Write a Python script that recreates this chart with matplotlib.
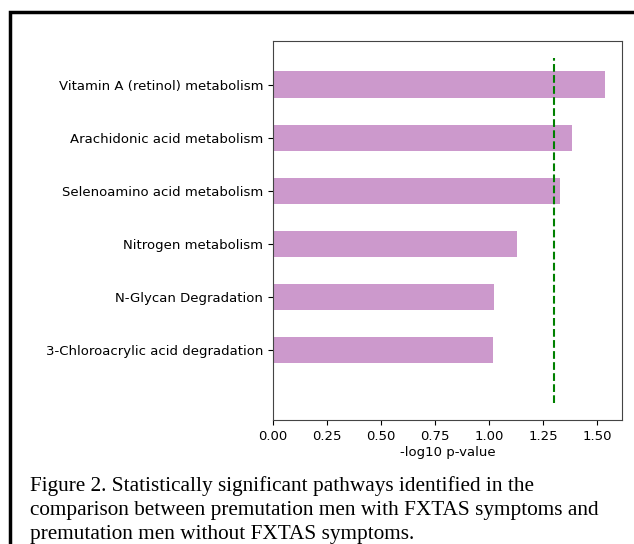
import matplotlib.pyplot as plt
from matplotlib.patches import Rectangle

# pathways, bottom to top
pathways = ["3-Chloroacrylic acid degradation", "N-Glycan Degradation",
            "Nitrogen metabolism", "Selenoamino acid metabolism",
            "Arachidonic acid metabolism", "Vitamin A (retinol) metabolism"]
neg_log_p = [1.015, 1.02, 1.126, 1.329, 1.384, 1.537]
threshold = 1.30
x_ticks = [0.0, 0.25, 0.5, 0.75, 1.0, 1.25, 1.5]

caption_lines = ["Figure 2. Statistically significant pathways identified in the",
                 "comparison between premutation men with FXTAS symptoms and",
                 "premutation men without FXTAS symptoms."]

fig = plt.figure(figsize=(6.34, 5.44), dpi=100)
ax = fig.add_axes([0.4306, 0.2279, 0.5505, 0.6967])

ax.barh(range(len(pathways)), neg_log_p, height=0.5, color="#cc99cc")
ax.vlines(threshold, -1, 5.5, colors="green", linestyles="dashed", linewidth=1.5)
ax.set_yticks(range(len(pathways)))
ax.set_yticklabels(pathways, fontsize=9.5)
ax.set_xticks(x_ticks)
ax.set_xticklabels([f"{t:.2f}" for t in x_ticks])
ax.tick_params(axis="x", labelsize=9.5)
ax.set_xlabel("-log10 p-value", fontsize=9.5, labelpad=2)
for s in ax.spines.values():
    s.set_color("#444444")

# outer frame of the figure panel
fig.patches.append(Rectangle((9.5 / 634, -0.1), 1.2, 1 - 12.5 / 544 + 0.1,
                             transform=fig.transFigure, fill=False,
                             edgecolor="black", linewidth=2.5))

for i, line in enumerate(caption_lines):
    fig.text(30 / 634, 1 - (491 + 24 * i) / 544, line, family="Liberation Serif",
             fontsize=15.3, va="baseline", ha="left")

fig.savefig("out.png", dpi=100)
